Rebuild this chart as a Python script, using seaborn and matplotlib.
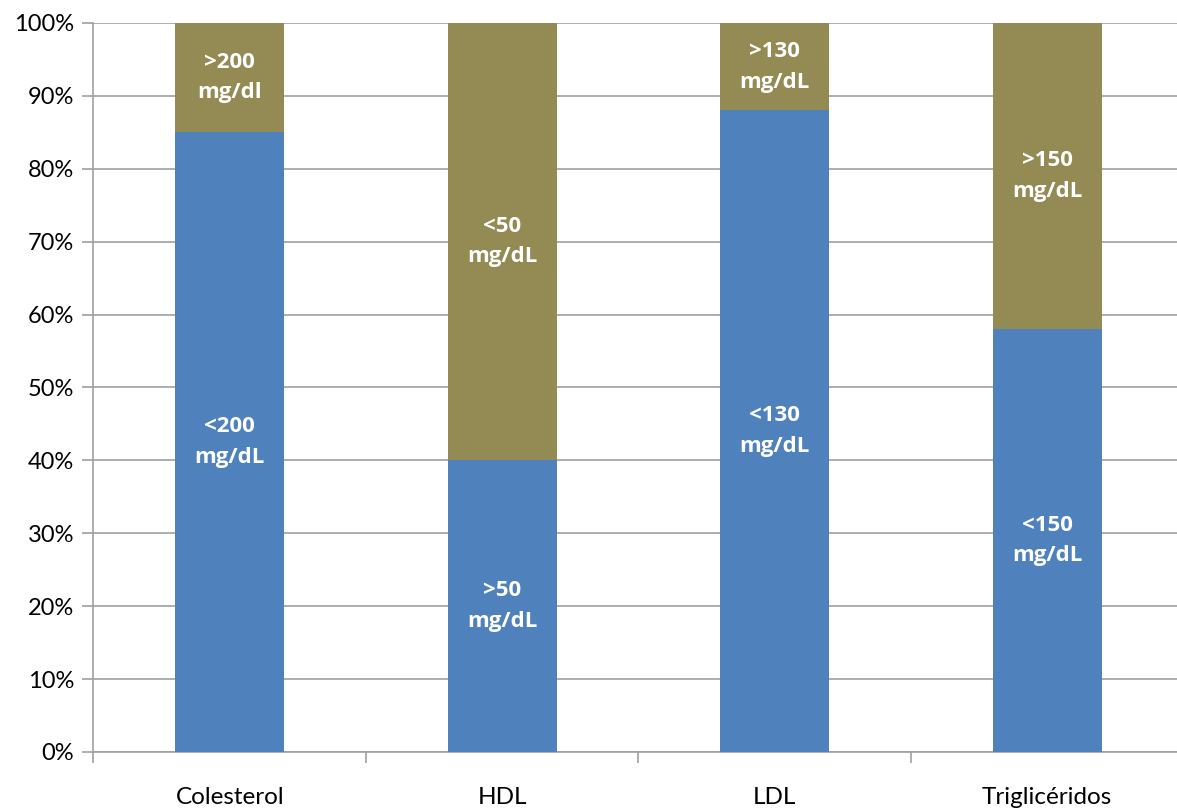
import matplotlib
matplotlib.use("Agg")
import matplotlib.pyplot as plt
import seaborn as sns
import pandas as pd
from matplotlib.ticker import PercentFormatter, FixedLocator

# Lipid profile: share of patients below / above each threshold (%)
categories = ["Colesterol", "HDL", "LDL", "Triglicéridos"]
lower_share = [85, 40, 88, 58]
upper_share = [15, 60, 12, 42]
lower_labels = ["<200\nmg/dL", ">50\nmg/dL", "<130\nmg/dL", "<150\nmg/dL"]
upper_labels = [">200\nmg/dl", "<50\nmg/dL", ">130\nmg/dL", ">150\nmg/dL"]

BLUE = "#4F81BD"
OLIVE = "#948A54"

sns.set_theme(style="white")
plt.rcParams["font.family"] = ["Lato", "DejaVu Sans"]

df = pd.DataFrame({
    "categoria": categories,
    "lower": lower_share,
    "total": [a + b for a, b in zip(lower_share, upper_share)],
})

fig = plt.figure(figsize=(11.77, 8.09), dpi=100)
ax = fig.add_axes([0.0794, 0.0705, 1.0055 - 0.0794, 0.9011])

sns.barplot(data=df, x="categoria", y="total", color=OLIVE, width=0.4,
            saturation=1, linewidth=0, ax=ax, zorder=2)
sns.barplot(data=df, x="categoria", y="lower", color=BLUE, width=0.4,
            saturation=1, linewidth=0, ax=ax, zorder=3)

# segment labels centred in each stacked segment
label_kw = dict(ha="center", va="center", color="white", fontsize=16,
                fontweight="bold", linespacing=1.6, zorder=4,
                family=["Open Sans", "DejaVu Sans"])
for i, (lo, hi) in enumerate(zip(lower_share, upper_share)):
    ax.text(i, lo / 2, lower_labels[i], **label_kw)
    ax.text(i, lo + hi / 2, upper_labels[i], **label_kw)

ax.set_ylim(0, 100)
ax.set_xlim(-0.5, 3.5)
ax.yaxis.set_major_locator(FixedLocator(range(0, 101, 10)))
ax.yaxis.set_major_formatter(PercentFormatter(decimals=0))
ax.grid(axis="y", color="#A0A0A0", linewidth=1.2, zorder=0)
ax.set_axisbelow(True)

ax.set_xlabel("")
ax.set_ylabel("")
for side in ["top", "right"]:
    ax.spines[side].set_visible(False)
for side in ["left", "bottom"]:
    ax.spines[side].set_color("#A0A0A0")
    ax.spines[side].set_linewidth(1.2)

ax.tick_params(axis="y", which="major", left=True, length=8, width=1.2,
               color="#A0A0A0", labelsize=17, labelcolor="black", pad=6)
ax.tick_params(axis="x", which="major", bottom=False, labelsize=17.5,
               labelcolor="black", pad=19)
ax.xaxis.set_minor_locator(FixedLocator([-0.5, 0.5, 1.5, 2.5]))
ax.tick_params(axis="x", which="minor", bottom=True, length=8, width=1.2,
               color="#A0A0A0")

fig.savefig("out.png", dpi=100)
